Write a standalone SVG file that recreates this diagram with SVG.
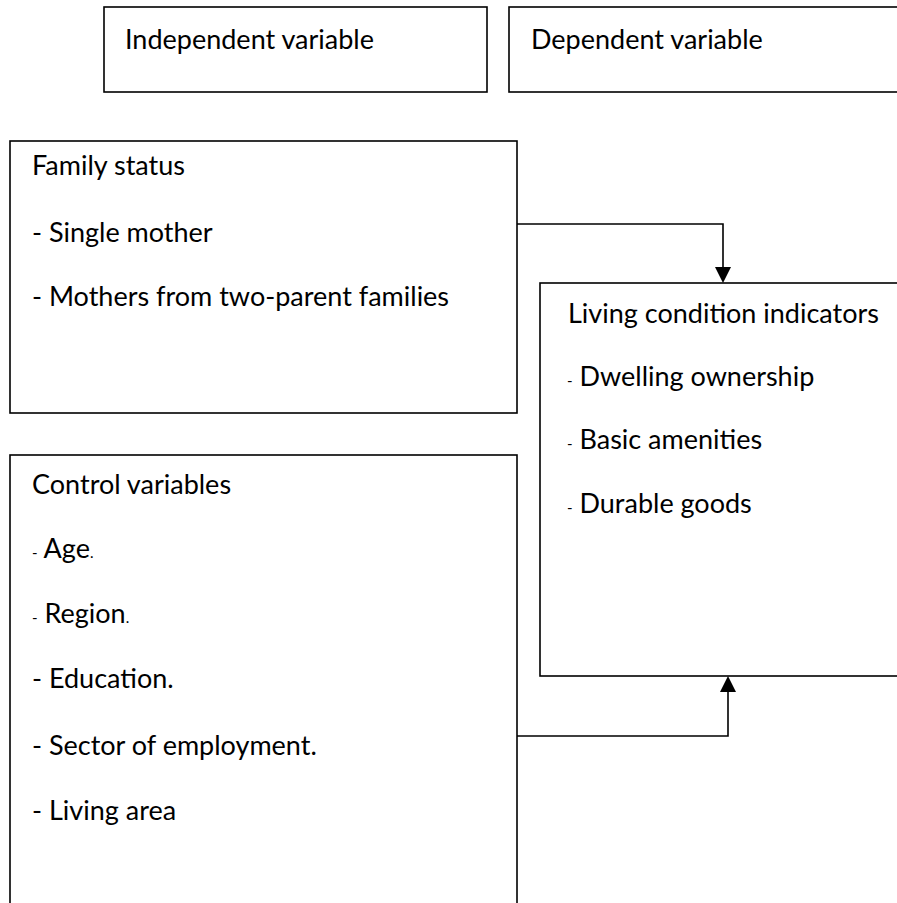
<svg xmlns="http://www.w3.org/2000/svg" width="897" height="903" viewBox="0 0 897 903">
<style>
.box{fill:#fff;stroke:#000;stroke-width:1.6}
.t{font-family:Lato,"Liberation Sans",sans-serif;font-size:27px;fill:#000}
.s{font-size:15px}
.con{fill:none;stroke:#000;stroke-width:1.6}
.head{fill:#000}
</style>
<rect width="897" height="903" fill="#fff"/>
<g id="independent-header">
<rect class="box" x="104" y="7" width="383" height="85"/>
<text class="t" x="125" y="49">Independent variable</text>
</g>
<g id="dependent-header">
<rect class="box" x="509" y="7" width="400" height="85"/>
<text class="t" x="531" y="49">Dependent variable</text>
</g>
<g id="family-status">
<rect class="box" x="10" y="141" width="507" height="272"/>
<text class="t" x="32" y="175">Family status</text>
<text class="t" x="32" y="242">- Single mother</text>
<text class="t" x="32" y="306">- Mothers from two-parent families</text>
</g>
<g id="control-variables">
<rect class="box" x="10" y="455" width="507" height="470"/>
<text class="t" x="32" y="494">Control variables</text>
<text class="t" x="32" y="558"><tspan class="s">-</tspan> Age<tspan class="s">.</tspan></text>
<text class="t" x="32" y="623"><tspan class="s">-</tspan> Region<tspan class="s">.</tspan></text>
<text class="t" x="32" y="688">- Education.</text>
<text class="t" x="32" y="755">- Sector of employment.</text>
<text class="t" x="32" y="820">- Living area</text>
</g>
<g id="living-condition">
<rect class="box" x="540" y="283" width="370" height="393"/>
<text class="t" x="568" y="323">Living condition indicators</text>
<text class="t" x="567" y="386"><tspan class="s">-</tspan> Dwelling ownership</text>
<text class="t" x="567" y="449"><tspan class="s">-</tspan> Basic amenities</text>
<text class="t" x="567" y="513"><tspan class="s">-</tspan> Durable goods</text>
</g>
<g id="connectors">
<path class="con" d="M517,224 H723 V267"/>
<path class="head" d="M715,267 L731,267 L723,283 Z"/>
<path class="con" d="M517,736 H728 V692"/>
<path class="head" d="M720,692 L736,692 L728,676 Z"/>
</g>
</svg>
